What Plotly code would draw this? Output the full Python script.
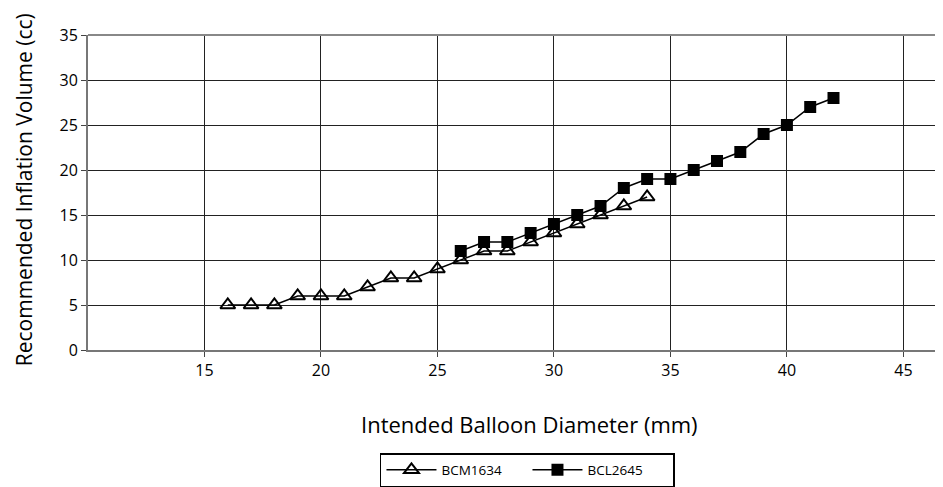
import plotly.graph_objects as go

bcm_x = [16, 17, 18, 19, 20, 21, 22, 23, 24, 25, 26, 27, 28, 29, 30, 31, 32, 33, 34]
bcm_y = [5, 5, 5, 6, 6, 6, 7, 8, 8, 9, 10, 11, 11, 12, 13, 14, 15, 16, 17]
bcl_x = [26, 27, 28, 29, 30, 31, 32, 33, 34, 35, 36, 37, 38, 39, 40, 41, 42]
bcl_y = [11, 12, 12, 13, 14, 15, 16, 18, 19, 19, 20, 21, 22, 24, 25, 27, 28]
x_ticks = [15, 20, 25, 30, 35, 40, 45]
y_ticks = [0, 5, 10, 15, 20, 25, 30, 35]
x_title = "Intended Balloon Diameter (mm)"
y_title = "Recommended Inflation Volume (cc)"

fig = go.Figure()
fig.add_trace(go.Scatter(x=bcm_x, y=bcm_y, name="BCM1634", mode="lines+markers",
                         line=dict(color="black", width=1.5),
                         marker=dict(symbol="triangle-up-open", size=13, color="black",
                                     line=dict(width=2, color="black"))))
fig.add_trace(go.Scatter(x=bcl_x, y=bcl_y, name="BCL2645", mode="lines+markers",
                         line=dict(color="black", width=1.5),
                         marker=dict(symbol="square", size=12, color="black")))

font_family = "Open Sans, Noto Sans, sans-serif"
fig.update_layout(
    width=935, height=479,
    margin=dict(l=80, r=0, t=27, b=137, autoexpand=False),
    paper_bgcolor="white", plot_bgcolor="white",
    font=dict(family=font_family, color="black", size=16),
    showlegend=True,
    legend=dict(orientation="h", x=0.514, xanchor="center", y=-0.327, yanchor="top",
                bordercolor="black", borderwidth=1.5, font=dict(size=13.5),
                itemwidth=50, entrywidth=81, entrywidthmode="pixels"),
    xaxis=dict(range=[10, 46.7], tickvals=x_ticks, showgrid=True, gridcolor="#222",
               gridwidth=1, showline=True, linecolor="#777", linewidth=2,
               ticks="outside", ticklen=5, tickcolor="#444", zeroline=False,
               automargin=False, tickfont=dict(size=16)),
    yaxis=dict(range=[0, 35], tickvals=y_ticks, showgrid=True, gridcolor="#222",
               gridwidth=1, showline=True, linecolor="#777", linewidth=2,
               ticks="outside", ticklen=5, tickcolor="#444", zeroline=False,
               automargin=False, tickfont=dict(size=16)),
    shapes=[dict(type="line", xref="paper", yref="paper", x0=0, x1=1, y0=1, y1=1,
                 line=dict(color="#888", width=2))],
    annotations=[
        dict(text=x_title, xref="paper", yref="paper", x=0.516, y=-0.235,
             xanchor="center", yanchor="middle", showarrow=False, font=dict(size=22)),
        dict(text=y_title, xref="paper", yref="paper", x=-0.075, y=0.51,
             xanchor="center", yanchor="middle", showarrow=False, textangle=-90,
             font=dict(size=21)),
    ],
)
fig.write_html("out.html")
